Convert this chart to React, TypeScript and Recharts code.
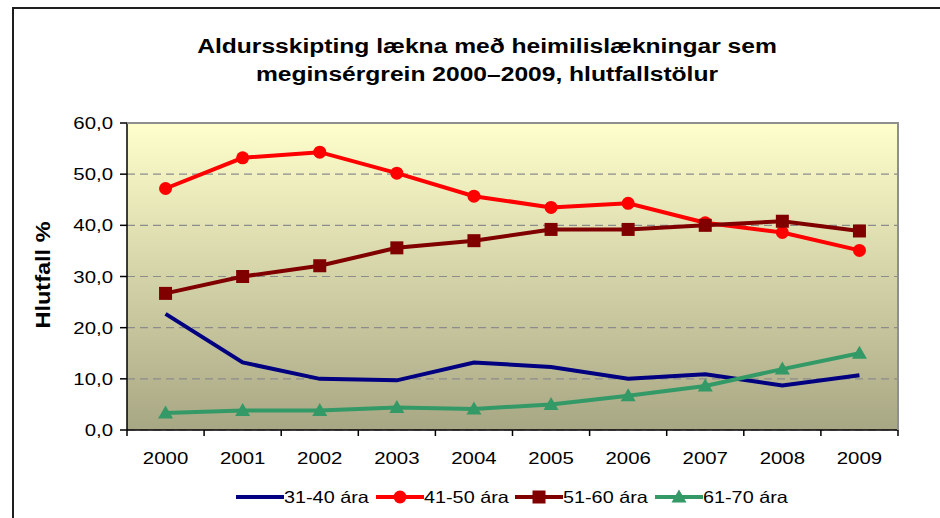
import { LineChart, Line, XAxis, YAxis, CartesianGrid } from "recharts";

const years = ["2000", "2001", "2002", "2003", "2004", "2005", "2006", "2007", "2008", "2009"];
const age31to40 = [22.7, 13.2, 10.0, 9.7, 13.2, 12.3, 10.0, 10.9, 8.7, 10.7];
const age41to50 = [47.2, 53.2, 54.3, 50.2, 45.7, 43.5, 44.3, 40.5, 38.6, 35.1];
const age51to60 = [26.7, 30.0, 32.1, 35.6, 37.0, 39.2, 39.2, 40.0, 40.8, 38.9];
const age61to70 = [3.3, 3.8, 3.8, 4.4, 4.1, 5.0, 6.7, 8.6, 11.9, 15.0];
const yTicks = [0, 10, 20, 30, 40, 50, 60];

const title1 = "Aldursskipting lækna með heimilislækningar sem";
const title2 = "meginsérgrein 2000–2009, hlutfallstölur";
const yLabel = "Hlutfall %";

const series = [
  { key: "a3140", name: "31-40 ára", color: "#000080", marker: "none" },
  { key: "a4150", name: "41-50 ára", color: "#FF0000", marker: "circle" },
  { key: "a5160", name: "51-60 ára", color: "#800000", marker: "square" },
  { key: "a6170", name: "61-70 ára", color: "#339966", marker: "triangle" },
];

const data = years.map((year, i) => ({
  year,
  a3140: age31to40[i],
  a4150: age41to50[i],
  a5160: age51to60[i],
  a6170: age61to70[i],
}));

const FONT = "'Liberation Sans', Arial, sans-serif";
const W = 940;
const H = 518;
const HALF_BAND = 771 / years.length / 2;

const fmt = (v: number) => v.toFixed(1).replace(".", ",");

function marker(kind: string, color: string, cx: number, cy: number, key?: string) {
  if (kind === "circle") return <circle key={key} cx={cx} cy={cy} r={6.5} fill={color} />;
  if (kind === "square")
    return <rect key={key} x={cx - 6.5} y={cy - 6.5} width={13} height={13} fill={color} />;
  if (kind === "triangle")
    return (
      <polygon
        key={key}
        points={`${cx},${cy - 7.5} ${cx + 7.5},${cy + 5.5} ${cx - 7.5},${cy + 5.5}`}
        fill={color}
      />
    );
  return null;
}

const makeDot = (kind: string, color: string) => (p: any) => {
  if (p.cx == null || p.cy == null) return <g key={`d-${p.index}`} />;
  return marker(kind, color, p.cx, p.cy, `d-${p.index}`);
};

const YTick = ({ x, y, payload }: any) => (
  <g transform={`translate(${x},${y})`}>
    <text
      x={0}
      y={0}
      dy="0.36em"
      textAnchor="end"
      transform="scale(1.2,1)"
      fontFamily={FONT}
      fontSize={17}
      fill="#000"
    >
      {fmt(payload.value)}
    </text>
  </g>
);

const XTick = ({ x, y, payload, index }: any) => (
  <g>
    <line x1={x - HALF_BAND} x2={x - HALF_BAND} y1={y} y2={y + 6} stroke="#000" strokeWidth={1.5} />
    {index === years.length - 1 && (
      <line x1={x + HALF_BAND} x2={x + HALF_BAND} y1={y} y2={y + 6} stroke="#000" strokeWidth={1.5} />
    )}
    <text
      transform={`translate(${x},${y + 34}) scale(1.2,1)`}
      textAnchor="middle"
      fontFamily={FONT}
      fontSize={17}
      fill="#000"
    >
      {payload.value}
    </text>
  </g>
);

export default function App() {
  return (
    <div
      style={{
        position: "absolute",
        left: 0,
        top: 0,
        width: W,
        height: H,
        overflow: "hidden",
        background: "#fff",
        fontFamily: FONT,
      }}
    >
      <div
        style={{
          position: "absolute",
          left: 12,
          top: 7,
          width: 960,
          height: 560,
          border: "2px solid #1e1e1e",
        }}
      />
      <div
        style={{
          position: "absolute",
          left: 0,
          top: 32,
          width: 974,
          textAlign: "center",
          fontWeight: "bold",
          fontSize: 20,
          lineHeight: "28px",
          color: "#000",
          transform: "scaleX(1.23)",
        }}
      >
        <div>{title1}</div>
        <div>{title2}</div>
      </div>
      <div
        style={{
          position: "absolute",
          left: 43,
          top: 275,
          fontWeight: "bold",
          fontSize: 21,
          whiteSpace: "nowrap",
          color: "#000",
          transform: "translate(-50%,-50%) rotate(-90deg) scaleX(1.12)",
        }}
      >
        {yLabel}
      </div>

      <div style={{ position: "absolute", left: 0, top: 0 }}>
        <LineChart
          width={W}
          height={H}
          data={data}
          margin={{ top: 123, right: 42, bottom: 48, left: 67 }}
        >
          <defs>
            <linearGradient id="plotBg" x1="0" y1="0" x2="0" y2="1">
              <stop offset="0%" stopColor="#FFFFCC" />
              <stop offset="100%" stopColor="#A8A784" />
            </linearGradient>
          </defs>
          <CartesianGrid
            vertical={false}
            fill="url(#plotBg)"
            fillOpacity={1}
            stroke="#8c8c8c"
            strokeDasharray="8 5"
            strokeWidth={1.2}
          />
          <XAxis
            dataKey="year"
            scale="band"
            interval={0}
            height={40}
            tickSize={0}
            tickMargin={0}
            tickLine={false}
            axisLine={{ stroke: "#000", strokeWidth: 1.5 }}
            tick={<XTick />}
          />
          <YAxis
            domain={[0, 60]}
            ticks={yTicks}
            width={60}
            tickSize={7}
            tickMargin={7}
            interval={0}
            axisLine={{ stroke: "#000", strokeWidth: 1.5 }}
            tickLine={{ stroke: "#000", strokeWidth: 1.5 }}
            tick={<YTick />}
          />
          {series.map((s) => (
            <Line
              key={s.key}
              dataKey={s.key}
              name={s.name}
              type="linear"
              stroke={s.color}
              strokeWidth={4}
              dot={s.marker === "none" ? false : makeDot(s.marker, s.color)}
              activeDot={false}
              isAnimationActive={false}
            />
          ))}
        </LineChart>
      </div>

      <div
        style={{
          position: "absolute",
          left: 127,
          top: 122,
          width: 772,
          height: 308,
          borderTop: "2px solid #8f8f8f",
          borderRight: "2px solid #8f8f8f",
          boxSizing: "border-box",
          pointerEvents: "none",
        }}
      />

      <div
        style={{
          position: "absolute",
          left: 236,
          top: 487,
          display: "flex",
          alignItems: "center",
          whiteSpace: "nowrap",
        }}
      >
        {series.map((s) => (
          <div key={s.key} style={{ display: "flex", alignItems: "center", marginRight: 8 }}>
            <svg width={48} height={20}>
              <line x1={0} x2={48} y1={10} y2={10} stroke={s.color} strokeWidth={4} />
              {marker(s.marker, s.color, 24, 10)}
            </svg>
            <span
              style={{
                display: "inline-block",
                fontSize: 16.5,
                color: "#000",
                transform: "scaleX(1.2)",
                transformOrigin: "left center",
                marginRight: 13,
              }}
            >
              {s.name}
            </span>
          </div>
        ))}
      </div>
    </div>
  );
}
